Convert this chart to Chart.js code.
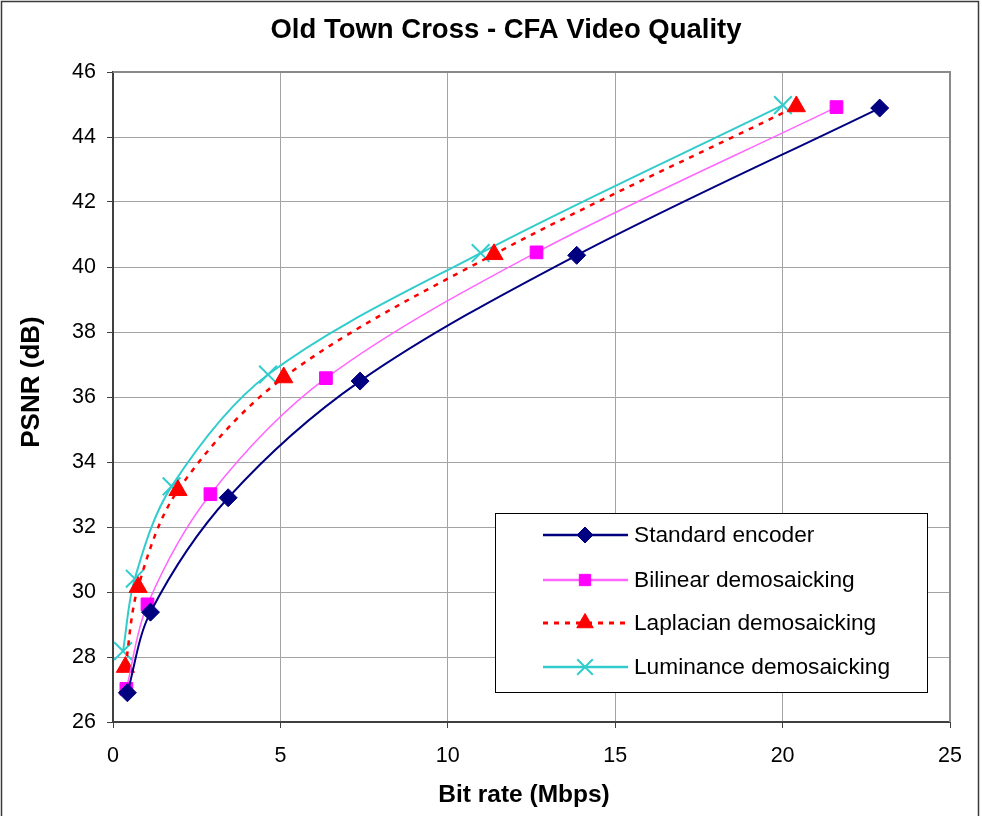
<!DOCTYPE html>
<html>
<head>
<meta charset="utf-8">
<title>Old Town Cross - CFA Video Quality</title>
<script src="https://cdn.jsdelivr.net/npm/chart.js@4/dist/chart.umd.min.js"></script>
<style>
  html, body { margin: 0; padding: 0; background: #ffffff; }
  #wrap { width: 982px; height: 816px; }
</style>
</head>
<body>
<div id="wrap"><canvas id="chart" width="982" height="816"></canvas></div>
<script>
// Rate–distortion points: bit rate (Mbps) and PSNR (dB) per encoder variant
const seriesNames = ['Standard encoder', 'Bilinear demosaicking', 'Laplacian demosaicking', 'Luminance demosaicking'];

const rateStandard  = [0.43, 1.12, 3.44, 7.38, 13.85, 22.90];
const psnrStandard  = [26.90, 29.38, 32.90, 36.49, 40.36, 44.89];

const rateBilinear  = [0.40, 1.03, 2.91, 6.36, 12.65, 21.61];
const psnrBilinear  = [27.02, 29.62, 33.01, 36.58, 40.45, 44.92];

const rateLaplacian = [0.37, 0.75, 1.94, 5.10, 11.38, 20.41];
const psnrLaplacian = [27.69, 30.15, 33.13, 36.60, 40.39, 44.94];

const rateLuminance = [0.30, 0.65, 1.75, 4.63, 10.98, 20.01];
const psnrLuminance = [28.18, 30.41, 33.25, 36.69, 40.43, 44.98];

const xTicks = [0, 5, 10, 15, 20, 25];
const yTicks = [26, 28, 30, 32, 34, 36, 38, 40, 42, 44, 46];

const chartTitle = 'Old Town Cross - CFA Video Quality';
const xTitle = 'Bit rate (Mbps)';
const yTitle = 'PSNR (dB)';

const FONT = "'Liberation Sans', Arial, sans-serif";

function pairs(xs, ys) {
  return xs.map((x, i) => ({ x: x, y: ys[i] }));
}

const styles = [
  { color: '#000080', fill: '#000080', width: 2,   dash: [],     point: 'rectRot',  radius: 9,    pBorder: 1 },
  { color: '#ff66ff', fill: '#ff00ff', width: 1.5, dash: [],     point: 'rect',     radius: 9,    pBorder: 1 },
  { color: '#ff0000', fill: '#ff0000', width: 2.5, dash: [5, 6], point: 'triangle', radius: 10.5, pBorder: 1 },
  { color: '#33cccc', fill: '#33cccc', width: 2,   dash: [],     point: 'crossRot', radius: 12.5, pBorder: 2 }
];

const rawSeries = [
  pairs(rateStandard, psnrStandard),
  pairs(rateBilinear, psnrBilinear),
  pairs(rateLaplacian, psnrLaplacian),
  pairs(rateLuminance, psnrLuminance)
];

const datasets = rawSeries.map((data, i) => {
  const s = styles[i];
  return {
    label: seriesNames[i],
    data: data,
    showLine: true,
    tension: 0.33,
    borderColor: s.color,
    borderWidth: s.width,
    borderDash: s.dash,
    pointStyle: s.point,
    pointRadius: s.radius,
    pointHoverRadius: s.radius,
    pointBackgroundColor: s.fill,
    pointBorderColor: s.point === 'crossRot' ? s.color : s.fill,
    pointBorderWidth: s.pBorder,
    fill: false
  };
});

// Titles, plot-area frame, outer chart frame and the boxed legend
const framePlugin = {
  id: 'frames',
  beforeDatasetsDraw(chart) {
    const { ctx, chartArea: a } = chart;
    ctx.save();
    ctx.strokeStyle = '#8a8a8a';
    ctx.lineWidth = 2;
    ctx.beginPath();
    ctx.moveTo(a.left, a.top);
    ctx.lineTo(a.right, a.top);
    ctx.lineTo(a.right, a.bottom);
    ctx.stroke();
    ctx.restore();
  },
  afterDraw(chart) {
    const ctx = chart.ctx;
    ctx.save();
    // outer frame
    ctx.strokeStyle = '#3a3a3a';
    ctx.lineWidth = 1.5;
    ctx.strokeRect(1.5, 1.5, 977, 816);

    // chart and axis titles
    ctx.fillStyle = '#000000';
    ctx.textAlign = 'center';
    ctx.textBaseline = 'middle';
    ctx.font = 'bold 27.5px ' + FONT;
    ctx.fillText(chartTitle, 506, 30);
    ctx.font = 'bold 24.5px ' + FONT;
    ctx.fillText(xTitle, 524, 795);
    ctx.save();
    ctx.translate(32, 382);
    ctx.rotate(-Math.PI / 2);
    ctx.font = 'bold 26px ' + FONT;
    ctx.fillText(yTitle, 0, 0);
    ctx.restore();

    // legend box
    const bx = 495, by = 513, bw = 432, bh = 179;
    ctx.fillStyle = '#ffffff';
    ctx.fillRect(bx, by, bw, bh);
    ctx.strokeStyle = '#000000';
    ctx.lineWidth = 1;
    ctx.strokeRect(bx + 0.5, by + 0.5, bw, bh);

    const rowY = [535, 580, 623, 667];
    const x0 = 543, x1 = 628, xm = 585;
    seriesNames.forEach((name, i) => {
      const s = styles[i];
      const y = rowY[i];
      ctx.save();
      ctx.strokeStyle = s.color;
      ctx.lineWidth = i === 2 ? 3 : 2.5;
      ctx.setLineDash(s.dash);
      ctx.beginPath();
      ctx.moveTo(x0, y);
      ctx.lineTo(x1, y);
      ctx.stroke();
      ctx.setLineDash([]);
      ctx.fillStyle = s.fill;
      ctx.strokeStyle = s.point === 'crossRot' ? s.color : s.fill;
      ctx.lineWidth = s.pBorder;
      Chart.helpers.drawPoint(ctx, {
        pointStyle: s.point,
        radius: s.point === 'crossRot' ? 11 : s.radius - 1,
        rotation: 0,
        borderWidth: s.pBorder
      }, xm, y);
      ctx.restore();

      ctx.fillStyle = '#000000';
      ctx.font = '22.7px ' + FONT;
      ctx.textAlign = 'left';
      ctx.textBaseline = 'middle';
      ctx.fillText(name, 634, y + 1);
    });
    ctx.restore();
  }
};

new Chart(document.getElementById('chart'), {
  type: 'scatter',
  data: { datasets: datasets },
  plugins: [framePlugin],
  options: {
    responsive: false,
    animation: false,
    devicePixelRatio: 1,
    layout: { padding: { left: 0, right: 32, top: 72, bottom: 0 } },
    plugins: {
      legend: { display: false },
      tooltip: { enabled: false },
      title: { display: false }
    },
    scales: {
      x: {
        type: 'linear',
        min: 0,
        max: 25,
        afterFit(scale) { scale.height = 94; },
        afterBuildTicks(scale) { scale.ticks = xTicks.map(v => ({ value: v })); },
        ticks: {
          color: '#000000',
          font: { family: FONT, size: 21.5 },
          padding: 15,
          maxRotation: 0
        },
        grid: {
          color: '#a3a3a3',
          lineWidth: 1,
          tickLength: 6,
          tickColor: '#404040',
          drawTicks: true
        },
        border: { color: '#404040', width: 2 },
        title: { display: false }
      },
      y: {
        type: 'linear',
        min: 26,
        max: 46,
        afterFit(scale) { scale.width = 113; },
        afterBuildTicks(scale) { scale.ticks = yTicks.map(v => ({ value: v })); },
        ticks: {
          color: '#000000',
          font: { family: FONT, size: 21.5 },
          padding: 11
        },
        grid: {
          color: '#a3a3a3',
          lineWidth: 1,
          tickLength: 6,
          tickColor: '#404040',
          drawTicks: true
        },
        border: { color: '#404040', width: 2 },
        title: { display: false }
      }
    }
  }
});
</script>
</body>
</html>
